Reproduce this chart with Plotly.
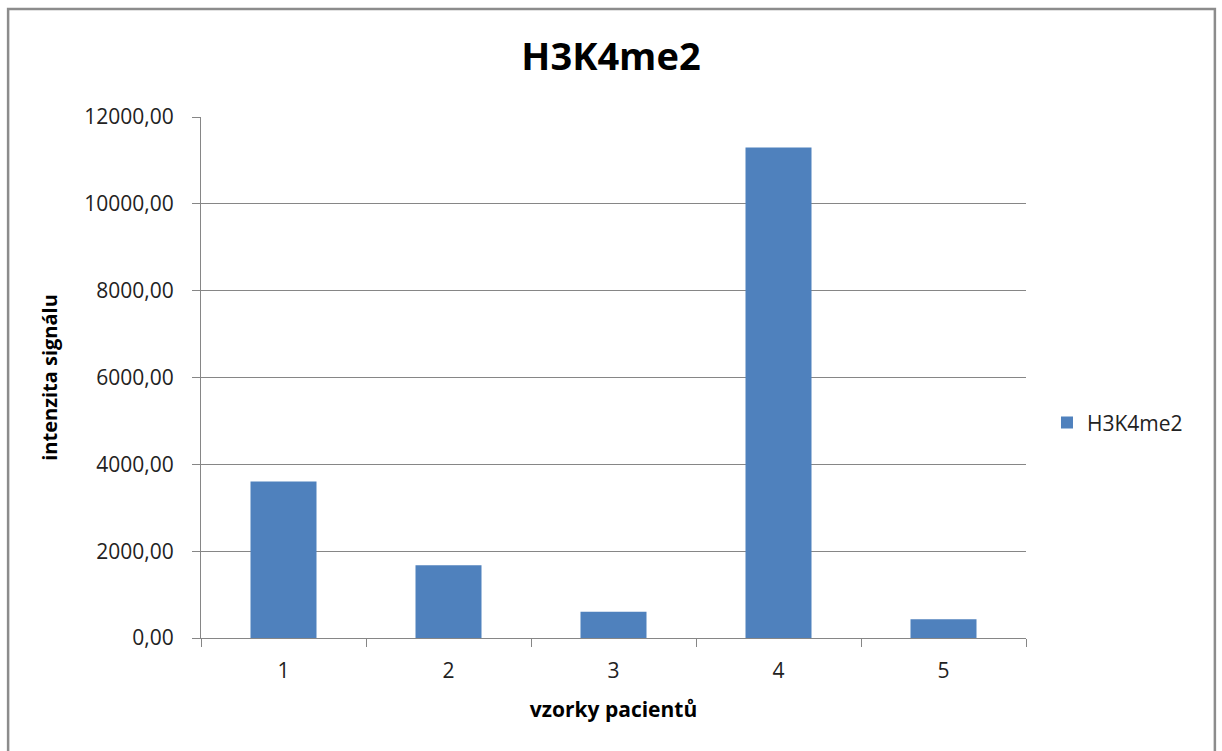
import plotly.graph_objects as go

# Patient samples and H3K4me2 signal intensity
samples = ["1", "2", "3", "4", "5"]
intensity = [3605, 1675, 603, 11297, 432]
series_name = "H3K4me2"

W, H = 1222, 751
ML, MR, MT, MB = 200.5, 196, 116.7, 112.5
plot_w = W - ML - MR
plot_h = H - MT - MB

GRID = "#868686"
TEXT = "#222222"
FONT = "Open Sans"


def px_x(p):
    return (p - ML) / plot_w


def px_y(p):
    return (H - MB - p) / plot_h


fig = go.Figure()
fig.add_trace(go.Bar(
    x=samples,
    y=intensity,
    name=series_name,
    marker=dict(color="#4F81BD", line=dict(width=0)),
    showlegend=True,
))

fig.update_layout(
    width=W,
    height=H,
    margin=dict(l=ML, r=MR, t=MT, b=MB, autoexpand=False),
    paper_bgcolor="white",
    plot_bgcolor="white",
    separators=", ",
    bargap=0.6,
    font=dict(family=FONT, color=TEXT, size=21),
    title=dict(
        text="<b>H3K4me2</b>",
        font=dict(family=FONT, size=38, color="black"),
        x=0.5, xanchor="center",
        y=1 - 57 / H, yanchor="middle",
    ),
    showlegend=True,
    legend=dict(
        x=px_x(1047), xanchor="left",
        y=px_y(423), yanchor="middle",
        font=dict(family=FONT, size=21, color=TEXT),
        bgcolor="rgba(0,0,0,0)",
    ),
    xaxis=dict(
        type="category",
        tickson="boundaries",
        ticks="outside",
        ticklen=8,
        tickcolor=GRID,
        showline=True,
        linecolor=GRID,
        linewidth=1,
        showgrid=False,
        ticklabelstandoff=14,
        tickfont=dict(family=FONT, size=21, color=TEXT),
        title=dict(text="<b>vzorky pacientů</b>",
                   font=dict(family=FONT, size=21, color="black"),
                   standoff=19),
    ),
    yaxis=dict(
        range=[0, 12000],
        dtick=2000,
        tickformat=".2f",
        ticks="outside",
        ticklen=8,
        tickcolor=GRID,
        showline=True,
        linecolor=GRID,
        linewidth=1,
        showgrid=True,
        gridcolor=GRID,
        gridwidth=1,
        zeroline=False,
        ticklabelstandoff=14,
        tickfont=dict(family=FONT, size=21, color=TEXT),
        title=dict(text="<b>intenzita signálu</b>",
                   font=dict(family=FONT, size=20, color="black"),
                   standoff=21),
    ),
)

# Outer chart frame
fig.add_shape(
    type="rect",
    xref="paper", yref="paper",
    x0=px_x(7.5), x1=px_x(1215), y0=px_y(H + 10), y1=px_y(8.5),
    line=dict(color="#8C8C8C", width=2.5),
    fillcolor="rgba(0,0,0,0)",
    layer="below",
)

fig.write_html("out.html")
